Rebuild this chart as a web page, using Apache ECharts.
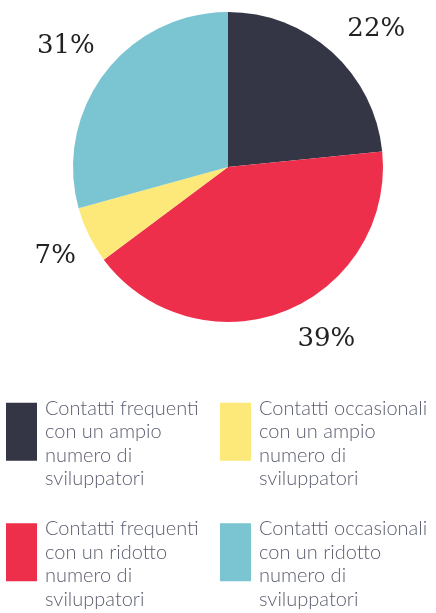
<!DOCTYPE html>
<html>
<head>
<meta charset="utf-8">
<script src="https://cdn.jsdelivr.net/npm/echarts@6/dist/echarts.min.js"></script>
<style>
    html, body { margin: 0; padding: 0; background: #fff; }
    #chart { width: 436px; height: 613px; }
</style>
</head>
<body>
<div id="chart"></div>
<script>
// categorie (ordine delle fette, in senso orario dall'alto)
var categories = [
    "Contatti frequenti\ncon un ampio\nnumero di\nsviluppatori",
    "Contatti frequenti\ncon un ridotto\nnumero di\nsviluppatori",
    "Contatti occasionali\ncon un ampio\nnumero di\nsviluppatori",
    "Contatti occasionali\ncon un ridotto\nnumero di\nsviluppatori"
];
// ampiezza delle fette come disegnate
var values = [23.4, 41.4, 5.9, 29.3];
// percentuali scritte accanto alle fette
var percentLabels = ["22%", "39%", "7%", "31%"];
var colors = ["#343646", "#ee2f4b", "#fde97a", "#7ac5d1"];
// ordine della legenda (2 colonne)
var legendOrder = [categories[0], categories[2], categories[1], categories[3]];

// piccoli spostamenti delle etichette percentuali
var labelNudge = [[-3, -8], [1, 9], [10, 12], [11, -15]];

var chart = echarts.init(document.getElementById("chart"));

var pieData = [];
for (var i = 0; i < categories.length; i++) {
    pieData.push({
        name: categories[i],
        value: values[i],
        itemStyle: { color: colors[i] }
    });
}

chart.setOption({
    animation: false,
    legend: {
        data: legendOrder,
        orient: "horizontal",
        left: 6,
        top: 373,
        width: 430,
        padding: 0,
        itemGap: 3,
        itemWidth: 31,
        itemHeight: 58,
        icon: "rect",
        selectedMode: false,
        formatter: function (name) {
            return "\n" + name;
        },
        textStyle: {
            fontFamily: "Lato",
            fontWeight: 300,
            fontSize: 20,
            lineHeight: 23.5,
            color: "#5a5d6e",
            width: 172,
            padding: [0, 0, 0, 3]
        }
    },
    series: [
        {
            type: "pie",
            center: [228, 167],
            radius: 155,
            startAngle: 90,
            clockwise: true,
            data: pieData,
            label: {
                show: true,
                position: "outside",
                formatter: function (p) {
                    return percentLabels[p.dataIndex];
                },
                fontFamily: "DejaVu Serif",
                fontSize: 26,
                color: "#222222"
            },
            labelLine: {
                show: false,
                length: 20,
                length2: 0
            },
            labelLayout: function (params) {
                var n = labelNudge[params.dataIndex];
                return { dx: n[0], dy: n[1] };
            },
            emphasis: { disabled: true }
        }
    ]
});
</script>
</body>
</html>
